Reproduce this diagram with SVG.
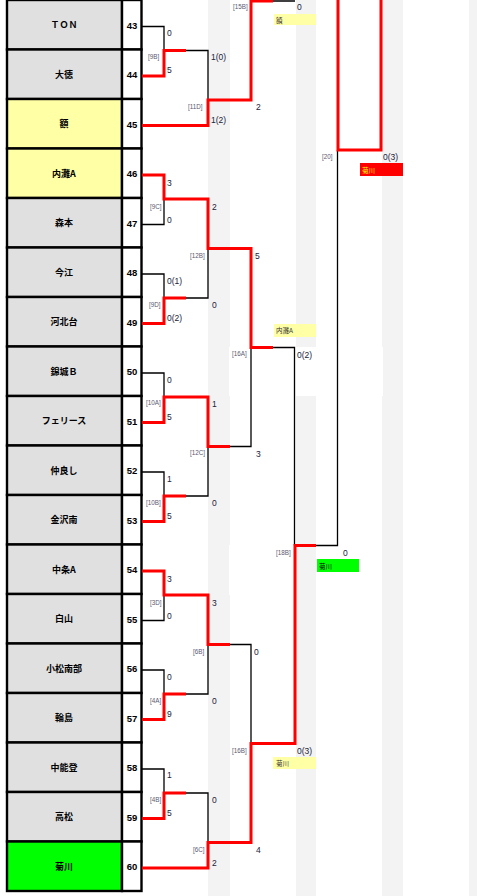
<svg xmlns="http://www.w3.org/2000/svg" width="477" height="896" viewBox="0 0 477 896">
<style>
.stripe{fill:#f3f3f3}
.nm{fill:#e0e0e0;stroke:#000;stroke-width:2.4}
.nmy{fill:#ffffa6;stroke:#000;stroke-width:2.4}
.nmg{fill:#00ff00;stroke:#000;stroke-width:2.4}
.no{fill:#fff;stroke:#000;stroke-width:2.4}
.tn{font-family:"Noto Sans CJK JP","Liberation Sans",sans-serif;font-weight:bold;font-size:9px;fill:#000;text-anchor:middle}
.tnum{font-family:"Liberation Sans",sans-serif;font-weight:bold;font-size:9.5px;fill:#000;text-anchor:middle}
.sc{font-family:"Liberation Sans",sans-serif;font-size:8.5px;fill:#22223a}
.lb{font-family:"Liberation Sans",sans-serif;font-size:6.3px;fill:#5a5a72}
.bk{fill:none;stroke:#000;stroke-width:1.3}
.rd{fill:none;stroke:#ff0000;stroke-width:3}
.bt{font-family:"Noto Sans CJK JP","Liberation Sans",sans-serif;font-size:6.5px;fill:#333}
</style>
<rect width="477" height="896" fill="#fff"/>
<g id="stripes">
<rect class="stripe" x="208" y="0" width="22" height="896"/>
<rect class="stripe" x="296" y="0" width="20" height="896"/>
<rect class="stripe" x="382" y="0" width="21" height="896"/>
<rect class="stripe" x="469" y="0" width="8" height="896"/>
<rect fill="#fff" x="229" y="347" width="154" height="49"/>
<rect fill="#fff" x="229" y="545" width="66" height="50"/>
</g>
<g id="teams">
<g id="t43"><rect class="nm" x="7" y="0" width="115" height="49.5"/><rect class="no" x="122" y="0" width="19.5" height="49.5"/><text class="tn" x="64" y="28">ＴＯＮ</text><text class="tnum" x="132" y="28.5">43</text></g>
<g id="t44"><rect class="nm" x="7" y="49.5" width="115" height="49.5"/><rect class="no" x="122" y="49.5" width="19.5" height="49.5"/><text class="tn" x="64" y="77.5">大徳</text><text class="tnum" x="132" y="78">44</text></g>
<g id="t45"><rect class="nmy" x="7" y="99" width="115" height="49.5"/><rect class="no" x="122" y="99" width="19.5" height="49.5"/><text class="tn" x="64" y="127">額</text><text class="tnum" x="132" y="127.5">45</text></g>
<g id="t46"><rect class="nmy" x="7" y="148.5" width="115" height="49.5"/><rect class="no" x="122" y="148.5" width="19.5" height="49.5"/><text class="tn" x="64" y="176.5">内灘A</text><text class="tnum" x="132" y="177">46</text></g>
<g id="t47"><rect class="nm" x="7" y="198" width="115" height="49.5"/><rect class="no" x="122" y="198" width="19.5" height="49.5"/><text class="tn" x="64" y="226">森本</text><text class="tnum" x="132" y="226.5">47</text></g>
<g id="t48"><rect class="nm" x="7" y="247.5" width="115" height="49.5"/><rect class="no" x="122" y="247.5" width="19.5" height="49.5"/><text class="tn" x="64" y="275.5">今江</text><text class="tnum" x="132" y="276">48</text></g>
<g id="t49"><rect class="nm" x="7" y="297" width="115" height="49.5"/><rect class="no" x="122" y="297" width="19.5" height="49.5"/><text class="tn" x="64" y="325">河北台</text><text class="tnum" x="132" y="325.5">49</text></g>
<g id="t50"><rect class="nm" x="7" y="346.5" width="115" height="49.5"/><rect class="no" x="122" y="346.5" width="19.5" height="49.5"/><text class="tn" x="64" y="374.5">錦城Ｂ</text><text class="tnum" x="132" y="375">50</text></g>
<g id="t51"><rect class="nm" x="7" y="396" width="115" height="49.5"/><rect class="no" x="122" y="396" width="19.5" height="49.5"/><text class="tn" x="64" y="424">フェリース</text><text class="tnum" x="132" y="424.5">51</text></g>
<g id="t52"><rect class="nm" x="7" y="445.5" width="115" height="49.5"/><rect class="no" x="122" y="445.5" width="19.5" height="49.5"/><text class="tn" x="64" y="473.5">仲良し</text><text class="tnum" x="132" y="474">52</text></g>
<g id="t53"><rect class="nm" x="7" y="495" width="115" height="49.5"/><rect class="no" x="122" y="495" width="19.5" height="49.5"/><text class="tn" x="64" y="523">金沢南</text><text class="tnum" x="132" y="523.5">53</text></g>
<g id="t54"><rect class="nm" x="7" y="544.5" width="115" height="49.5"/><rect class="no" x="122" y="544.5" width="19.5" height="49.5"/><text class="tn" x="64" y="572.5">中条A</text><text class="tnum" x="132" y="573">54</text></g>
<g id="t55"><rect class="nm" x="7" y="594" width="115" height="49.5"/><rect class="no" x="122" y="594" width="19.5" height="49.5"/><text class="tn" x="64" y="622">白山</text><text class="tnum" x="132" y="622.5">55</text></g>
<g id="t56"><rect class="nm" x="7" y="643.5" width="115" height="49.5"/><rect class="no" x="122" y="643.5" width="19.5" height="49.5"/><text class="tn" x="64" y="671.5">小松南部</text><text class="tnum" x="132" y="672">56</text></g>
<g id="t57"><rect class="nm" x="7" y="693" width="115" height="49.5"/><rect class="no" x="122" y="693" width="19.5" height="49.5"/><text class="tn" x="64" y="721">輪島</text><text class="tnum" x="132" y="721.5">57</text></g>
<g id="t58"><rect class="nm" x="7" y="742.5" width="115" height="49.5"/><rect class="no" x="122" y="742.5" width="19.5" height="49.5"/><text class="tn" x="64" y="770.5">中能登</text><text class="tnum" x="132" y="771">58</text></g>
<g id="t59"><rect class="nm" x="7" y="792" width="115" height="49.5"/><rect class="no" x="122" y="792" width="19.5" height="49.5"/><text class="tn" x="64" y="820">高松</text><text class="tnum" x="132" y="820.5">59</text></g>
<g id="t60"><rect class="nmg" x="7" y="841.5" width="115" height="49.5"/><rect class="no" x="122" y="841.5" width="19.5" height="49.5"/><text class="tn" x="64" y="869.5">菊川</text><text class="tnum" x="132" y="870">60</text></g>
</g>
<g id="connectors">
<path class="bk" d="M142 26.5H164V50.5M186 50.5H208V100M273 1H295"/>
<path class="bk" d="M142 224.5H164V199"/>
<path class="bk" d="M142 274H164V298M186 298H208V248.5"/>
<path class="bk" d="M273 347.5H294.5V545.5M316 545.5H337.5V150"/>
<path class="bk" d="M142 373H164V397M230 446.5H251V347.5"/>
<path class="bk" d="M142 472H164V496M186 496H208V446.5"/>
<path class="bk" d="M142 620.5H164V595M230 644.5H251V743.5"/>
<path class="bk" d="M142 670H164V694M186 694H208V644.5"/>
<path class="bk" d="M142 769H164V793M186 793H208V842.5"/>
<path class="rd" d="M142 76H164V50.5H186"/>
<path class="rd" d="M142 125.5H208V100H251V1H273"/>
<path class="rd" d="M142 175H164V199H208V248.5H251V347.5H273"/>
<path class="rd" d="M142 323.5H164V298H186"/>
<path class="rd" d="M142 422.5H164V397H208V446.5H230"/>
<path class="rd" d="M142 521.5H164V496H186"/>
<path class="rd" d="M142 571H164V595H208V644.5H230"/>
<path class="rd" d="M142 719.5H164V694H186"/>
<path class="rd" d="M142 818.5H164V793H186"/>
<path class="rd" d="M142 868H208V842.5H251V743.5H295V545.5H316"/>
<path class="rd" d="M338 0V150H381V0"/>
</g>
<g id="labels">
<text class="lb" x="233" y="9">[15B]</text>
<text class="lb" x="148" y="59">[9B]</text>
<text class="lb" x="188" y="109">[11D]</text>
<text class="lb" x="150" y="209">[9C]</text>
<text class="lb" x="190" y="258">[12B]</text>
<text class="lb" x="149" y="307">[9D]</text>
<text class="lb" x="232" y="356">[16A]</text>
<text class="lb" x="146" y="405">[10A]</text>
<text class="lb" x="190" y="455">[12C]</text>
<text class="lb" x="146" y="505">[10B]</text>
<text class="lb" x="276" y="555">[18B]</text>
<text class="lb" x="150" y="605">[3D]</text>
<text class="lb" x="193" y="654">[6B]</text>
<text class="lb" x="150" y="703">[4A]</text>
<text class="lb" x="232" y="753">[16B]</text>
<text class="lb" x="150" y="802">[4B]</text>
<text class="lb" x="193" y="852">[6C]</text>
<text class="lb" x="322" y="159">[20]</text>
</g>
<g id="scores">
<text class="sc" x="167" y="36">0</text>
<text class="sc" x="167" y="73">5</text>
<text class="sc" x="211" y="60">1(0)</text>
<text class="sc" x="211" y="123">1(2)</text>
<text class="sc" x="256" y="110">2</text>
<text class="sc" x="297" y="10">0</text>
<text class="sc" x="383" y="160">0(3)</text>
<text class="sc" x="167" y="186">3</text>
<text class="sc" x="167" y="223">0</text>
<text class="sc" x="212" y="210">2</text>
<text class="sc" x="167" y="284">0(1)</text>
<text class="sc" x="167" y="321">0(2)</text>
<text class="sc" x="212" y="308">0</text>
<text class="sc" x="255" y="259">5</text>
<text class="sc" x="297" y="358">0(2)</text>
<text class="sc" x="167" y="383">0</text>
<text class="sc" x="167" y="420">5</text>
<text class="sc" x="212" y="407">1</text>
<text class="sc" x="167" y="482">1</text>
<text class="sc" x="167" y="519">5</text>
<text class="sc" x="212" y="506">0</text>
<text class="sc" x="256" y="457">3</text>
<text class="sc" x="343" y="556">0</text>
<text class="sc" x="167" y="582">3</text>
<text class="sc" x="167" y="619">0</text>
<text class="sc" x="212" y="606">3</text>
<text class="sc" x="167" y="680">0</text>
<text class="sc" x="167" y="717">9</text>
<text class="sc" x="212" y="704">0</text>
<text class="sc" x="254" y="655">0</text>
<text class="sc" x="297" y="754">0(3)</text>
<text class="sc" x="167" y="778">1</text>
<text class="sc" x="167" y="816">5</text>
<text class="sc" x="212" y="803">0</text>
<text class="sc" x="212" y="866">2</text>
<text class="sc" x="256" y="853">4</text>
</g>
<g id="winners">
<g id="w15B"><rect x="274" y="14" width="42" height="11" fill="#ffffa6"/><text class="bt" x="276" y="22.5">額</text></g>
<g id="w16A"><rect x="274" y="324" width="42" height="13" fill="#ffffa6"/><text class="bt" x="276" y="333">内灘A</text></g>
<g id="w16B"><rect x="273" y="757" width="43" height="12" fill="#ffffa6"/><text class="bt" x="276" y="766">菊川</text></g>
<g id="w20"><rect x="360" y="163" width="43" height="13" fill="#ff0000"/><text class="bt" x="362" y="172.5" style="fill:#ffff00">菊川</text></g>
<g id="w18B"><rect x="317" y="559" width="42" height="13" fill="#00ff00"/><text class="bt" x="319" y="568.5" style="fill:#000">菊川</text></g>
</g>
</svg>
